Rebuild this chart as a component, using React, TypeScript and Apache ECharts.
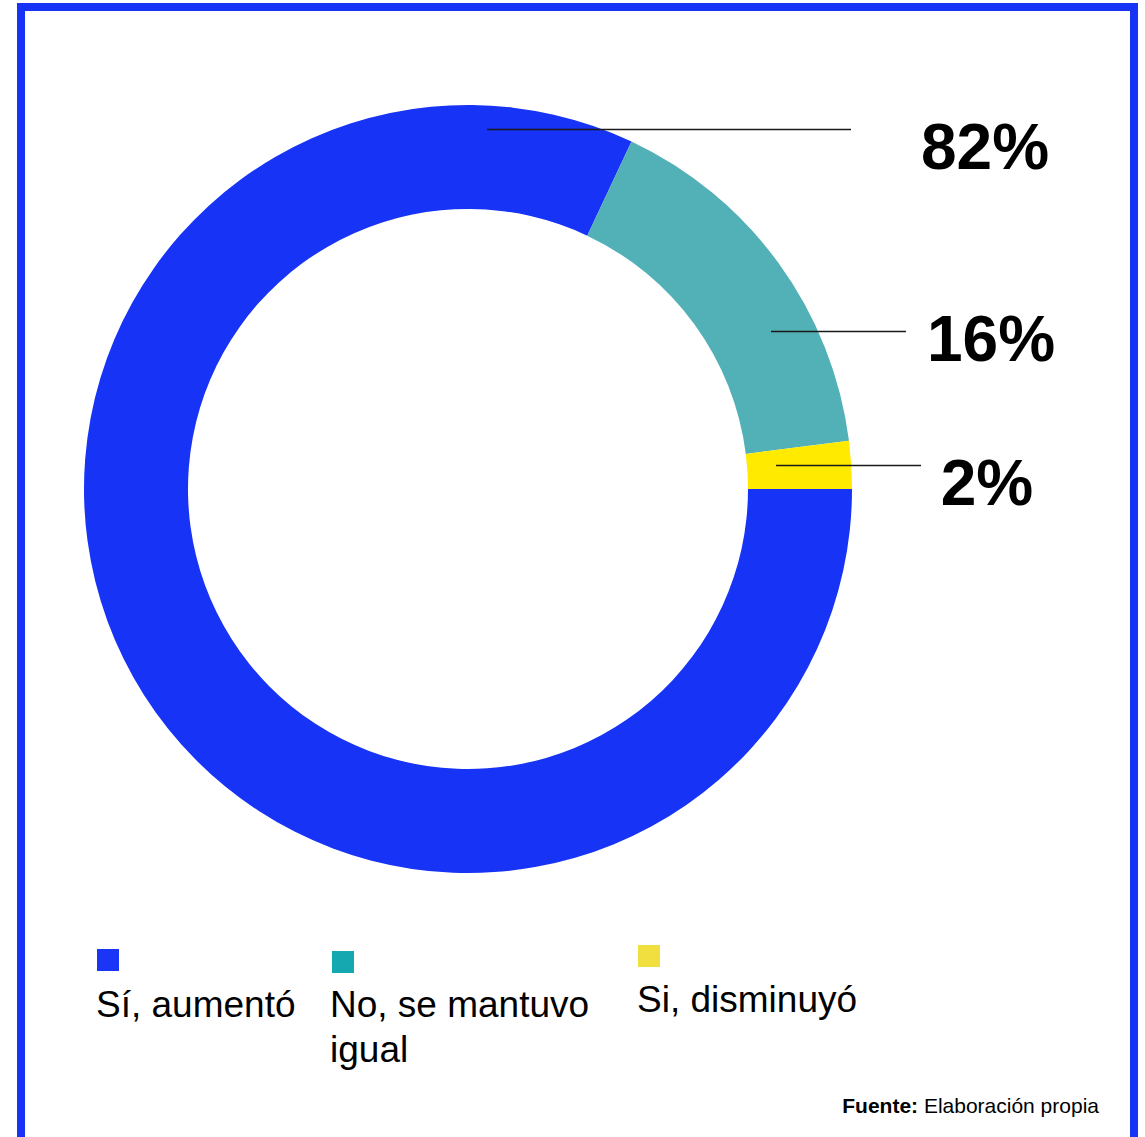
import React, { useEffect, useRef } from "react";
import * as echarts from "echarts";

const CATEGORIES = ["Sí, aumentó", "No, se mantuvo igual", "Si, disminuyó"];
const LEGEND_LABELS = ["Sí, aumentó", "No, se mantuvo\nigual", "Si, disminuyó"];
const VALUES = [82, 16, 2];
const SLICE_COLORS = ["#1733F6", "#52B0B7", "#FFEA00"];
const LEGEND_COLORS = ["#1A35F5", "#15A8B0", "#F1DF3F"];
const SOURCE_BOLD = "Fuente:";
const SOURCE_TEXT = "Elaboración propia";

// layout (annotation positions, not data)
const LABEL_LAYOUT = [
  { x: 985, y: 147, line: [[487, 129.5], [851, 129.5]] },
  { x: 991, y: 339, line: [[771, 331.5], [906, 331.5]] },
  { x: 987, y: 483, line: [[776, 465.5], [921, 465.5]] },
];
const LEGEND_POS = [
  { sx: 97, sy: 949, tx: 96, ty: 982 },
  { sx: 332, sy: 951, tx: 330, ty: 982 },
  { sx: 638, sy: 945, tx: 637, ty: 977 },
];

const FONT = "'Liberation Sans', Arial, Helvetica, sans-serif";

export default function App() {
  const ref = useRef<HTMLDivElement>(null);

  useEffect(() => {
    if (!ref.current) return;
    const chart = echarts.init(ref.current, undefined, { renderer: "svg" });

    const graphics: any[] = [
      {
        type: "rect",
        shape: { x: 21, y: 7, width: 1113, height: 1200 },
        style: { fill: "none", stroke: "#1733F6", lineWidth: 8 },
        silent: true,
      },
    ];
    LABEL_LAYOUT.forEach((l) => {
      graphics.push({
        type: "line",
        z: 100,
        shape: { x1: l.line[0][0], y1: l.line[0][1], x2: l.line[1][0], y2: l.line[1][1] },
        style: { stroke: "#1a1a1a", lineWidth: 1.3 },
        silent: true,
      });
    });
    CATEGORIES.forEach((_, i) => {
      const p = LEGEND_POS[i];
      graphics.push({
        type: "rect",
        shape: { x: p.sx, y: p.sy, width: 22, height: 22 },
        style: { fill: LEGEND_COLORS[i] },
      });
      graphics.push({
        type: "text",
        x: p.tx,
        y: p.ty,
        style: {
          text: LEGEND_LABELS[i],
          fill: "#000",
          fontSize: 37,
          fontFamily: FONT,
          lineHeight: 45,
          align: "left",
          verticalAlign: "top",
        },
      });
    });
    graphics.push({
      type: "text",
      x: 1099,
      y: 1105,
      style: {
        text: `{b|${SOURCE_BOLD}}{r| ${SOURCE_TEXT}}`,
        align: "right",
        verticalAlign: "middle",
        fill: "#000",
        rich: {
          b: { fontWeight: "bold", fontSize: 21, fontFamily: FONT, fill: "#000" },
          r: { fontSize: 21, fontFamily: FONT, fill: "#000" },
        },
      },
    });

    chart.setOption({
      animation: false,
      backgroundColor: "#fff",
      graphic: graphics,
      series: [
        {
          type: "pie",
          center: [468, 489],
          radius: [280, 384],
          startAngle: 0,
          clockwise: true,
          avoidLabelOverlap: false,
          silent: true,
          itemStyle: { borderWidth: 0 },
          data: CATEGORIES.map((name, i) => ({
            name,
            value: VALUES[i],
            itemStyle: { color: SLICE_COLORS[i] },
          })),
          label: {
            show: true,
            position: "outside",
            formatter: "{c}%",
            fontSize: 64,
            fontWeight: "bold",
            fontFamily: FONT,
            color: "#000",
          },
          labelLine: { show: false },
          labelLayout: (params: any) => {
            const l = LABEL_LAYOUT[params.dataIndex];
            return {
              x: l.x,
              y: l.y,
              align: "center",
              verticalAlign: "middle",
            };
          },
        },
      ],
    });

    return () => chart.dispose();
  }, []);

  return (
    <div
      ref={ref}
      style={{ position: "absolute", left: 0, top: 0, width: 1145, height: 1137 }}
    />
  );
}
